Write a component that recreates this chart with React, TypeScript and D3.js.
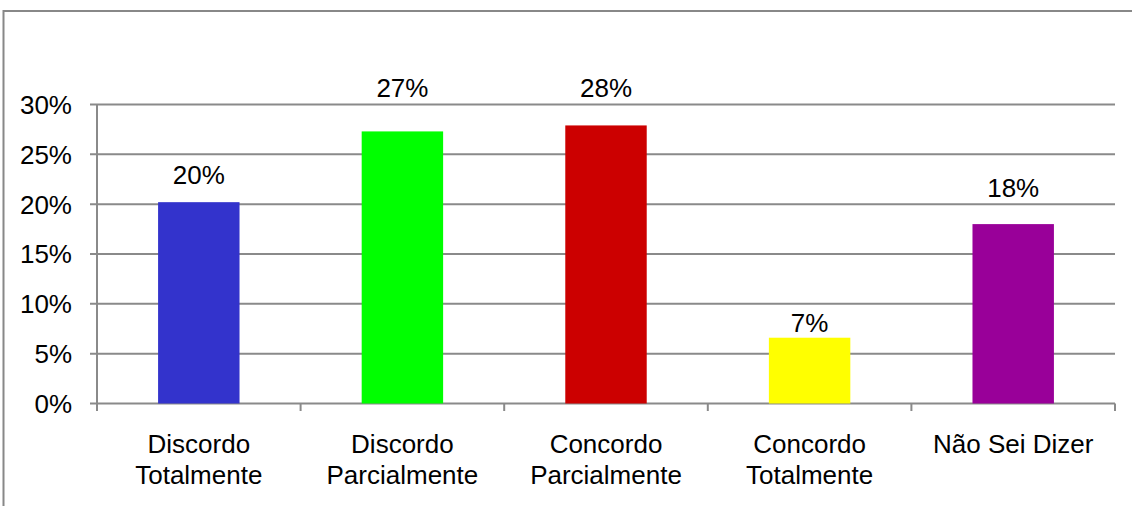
import React from "react";
import * as d3 from "d3";

const categories: string[][] = [
  ["Discordo", "Totalmente"],
  ["Discordo", "Parcialmente"],
  ["Concordo", "Parcialmente"],
  ["Concordo", "Totalmente"],
  ["Não Sei Dizer"],
];
const values: number[] = [0.202, 0.273, 0.279, 0.066, 0.18];
const barColors: string[] = ["#3333CC", "#00FF00", "#CC0000", "#FFFF00", "#990099"];
const yTicks: number[] = [0, 0.05, 0.1, 0.15, 0.2, 0.25, 0.3];

// vertical gap between each bar's top and its value label baseline
const labelGap: number[] = [18, 34, 28, 6, 27];

const W = 1132;
const H = 506;
const left = 97;
const right = 1115;
const top = 104.5;
const bottom = 403.5;
const FONT = "'Liberation Sans', Arial, sans-serif";
const GRID = "#8a8a8a";

export default function App() {
  const keys = categories.map((c) => c.join(" "));
  const x = d3.scaleBand<string>().domain(keys).range([left, right]).paddingInner(0.6).paddingOuter(0.3);
  const y = d3.scaleLinear().domain([0, 0.3]).range([bottom, top]);
  const pct = d3.format(".0%");
  const step = x.step();
  const bounds = d3.range(keys.length + 1).map((i) => left + i * step);

  return (
    <div style={{ position: "fixed", left: 0, top: 0 }}>
      <svg width={W} height={H} style={{ display: "block", background: "#fff" }}>
        <rect x={3.5} y={11} width={W + 20} height={H + 20} fill="#fff" stroke="#888" strokeWidth={2} />
        {yTicks.map((t) => (
          <g key={t}>
            <line x1={90} x2={right} y1={y(t)} y2={y(t)} stroke={GRID} strokeWidth={2} />
            <text
              x={72}
              y={y(t)}
              dy="0.36em"
              textAnchor="end"
              fontFamily={FONT}
              fontSize={26}
              fill="#000"
            >
              {pct(t)}
            </text>
          </g>
        ))}
        <line x1={left} x2={left} y1={top} y2={bottom} stroke={GRID} strokeWidth={2} />
        {bounds.map((b, i) => (
          <line key={i} x1={b} x2={b} y1={bottom} y2={411} stroke={GRID} strokeWidth={2} />
        ))}
        {keys.map((k, i) => (
          <rect
            key={k}
            x={x(k)!}
            y={y(values[i])}
            width={x.bandwidth()}
            height={bottom - y(values[i])}
            fill={barColors[i]}
          />
        ))}
        {keys.map((k, i) => (
          <text
            key={k}
            x={x(k)! + x.bandwidth() / 2}
            y={y(values[i]) - labelGap[i]}
            textAnchor="middle"
            fontFamily={FONT}
            fontSize={26}
            fill="#000"
          >
            {pct(values[i])}
          </text>
        ))}
        {categories.map((lines, i) => (
          <text
            key={i}
            x={x(keys[i])! + x.bandwidth() / 2}
            y={453}
            textAnchor="middle"
            fontFamily={FONT}
            fontSize={26}
            fill="#000"
          >
            {lines.map((l, j) => (
              <tspan key={j} x={x(keys[i])! + x.bandwidth() / 2} dy={j === 0 ? 0 : 30.5}>
                {l}
              </tspan>
            ))}
          </text>
        ))}
      </svg>
    </div>
  );
}
